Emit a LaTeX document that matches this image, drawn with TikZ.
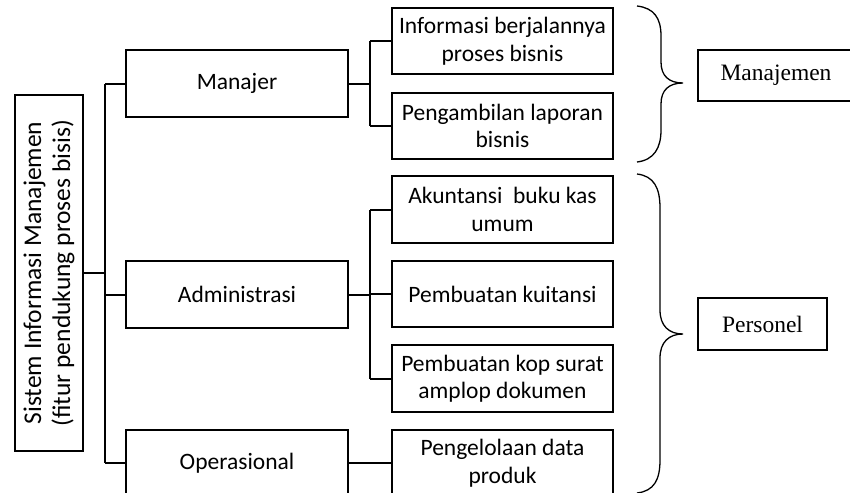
\documentclass[tikz,border=0pt]{standalone}
\usepackage{fontspec}
\setmainfont{Carlito}
\newfontfamily\timesfont{Liberation Serif}
\begin{document}
\begin{tikzpicture}[x=1pt,y=-1pt,
  box/.style={draw=black, line width=2pt, minimum width=221pt, minimum height=66pt, align=center, inner sep=0pt,
    font=\fontsize{23.5pt}{27.5pt}\selectfont},
  rootbox/.style={draw=black, line width=2pt, rotate=90, minimum width=356pt, minimum height=68pt, align=center, inner sep=0pt,
    font=\fontsize{25.5pt}{29pt}\selectfont},
  tbox/.style={draw=black, line width=1.6pt, minimum height=51pt, inner sep=0pt,
    font=\timesfont\fontsize{23.5pt}{27pt}\selectfont},
  conn/.style={line width=2pt},
  brace/.style={line width=1.3pt}]
\useasboundingbox (0,0) rectangle (850,495);
\begin{scope}
\clip (0,0) rectangle (850,492);
% nodes
\node[rootbox] (root) at (49,273) {Sistem Informasi Manajemen\\(fitur pendukung proses bisis)};
\node[box, minimum width=222pt, minimum height=67pt] (man) at (237,83.5) {Manajer};
\node[box, minimum width=222pt, minimum height=67pt] (adm) at (237,294.5) {Administrasi};
\node[box, minimum width=222pt, minimum height=67pt] (ops) at (237,463) {Operasional};
\node[box] (info) at (502.5,41) {Informasi berjalannya\\proses bisnis};
\node[box] (peng) at (502.5,126) {Pengambilan laporan\\bisnis};
\node[box, minimum height=67pt] (akun) at (502.5,209.5) {Akuntansi\ \ buku kas\\umum};
\node[box] (kuit) at (502.5,294) {Pembuatan kuitansi};
\node[box, minimum height=67pt] (kop) at (502.5,378.5) {Pembuatan kop surat\\amplop dokumen};
\node[box, minimum height=67pt] (pengel) at (502.5,463) {Pengelolaan data\\produk};
\node[tbox, minimum width=156pt] (mnj) at (776,75.5) {Manajemen};
\node[tbox, minimum width=129pt, minimum height=52pt] (pers) at (762.5,324) {Personel};
% coordinates
\coordinate (t1) at (105,83.5);
\coordinate (t2) at (105,463);
\coordinate (s1) at (370,41);
\coordinate (s2) at (370,126);
\coordinate (s3) at (370,209.5);
\coordinate (s4) at (370,378.5);
% connectors
\draw[conn] (root.south) -- (root.south -| t1);
\draw[conn] (t1) -- (t2);
\draw[conn] (t1) -- (man.west);
\draw[conn] (adm.west -| t1) -- (adm.west);
\draw[conn] (t2) -- (ops.west);
\draw[conn] (man.east) -- (man.east -| s1);
\draw[conn] (s1) -- (s2);
\draw[conn] (s1) -- (info.west);
\draw[conn] (s2) -- (peng.west);
\draw[conn] (adm.east) -- (adm.east -| s3);
\draw[conn] (s3) -- (s4);
\draw[conn] (s3) -- (akun.west);
\draw[conn] (kuit.west -| s3) -- (kuit.west);
\draw[conn] (s4) -- (kop.west);
\draw[conn] (ops.east) -- (pengel.west);
% braces
\coordinate (b1a) at (637,6);
\coordinate (b1t) at (683,83);
\coordinate (b1b) at (637,162);
\draw[brace] (b1a) .. controls (654,8) and (661,18) .. (661,36) -- (661,62)
  .. controls (661,76) and (669,83) .. (b1t)
  .. controls (669,83) and (661,90) .. (661,104) -- (661,130)
  .. controls (661,148) and (654,160) .. (b1b);
\coordinate (b2a) at (637,174);
\coordinate (b2t) at (683,334);
\coordinate (b2b) at (637,493);
\draw[brace] (b2a) .. controls (654,176) and (660,188) .. (660,208) -- (660,310)
  .. controls (660,326) and (669,334) .. (b2t)
  .. controls (669,334) and (660,342) .. (660,358) -- (660,460)
  .. controls (660,480) and (654,491) .. (b2b);
\end{scope}
\end{tikzpicture}
\end{document}
